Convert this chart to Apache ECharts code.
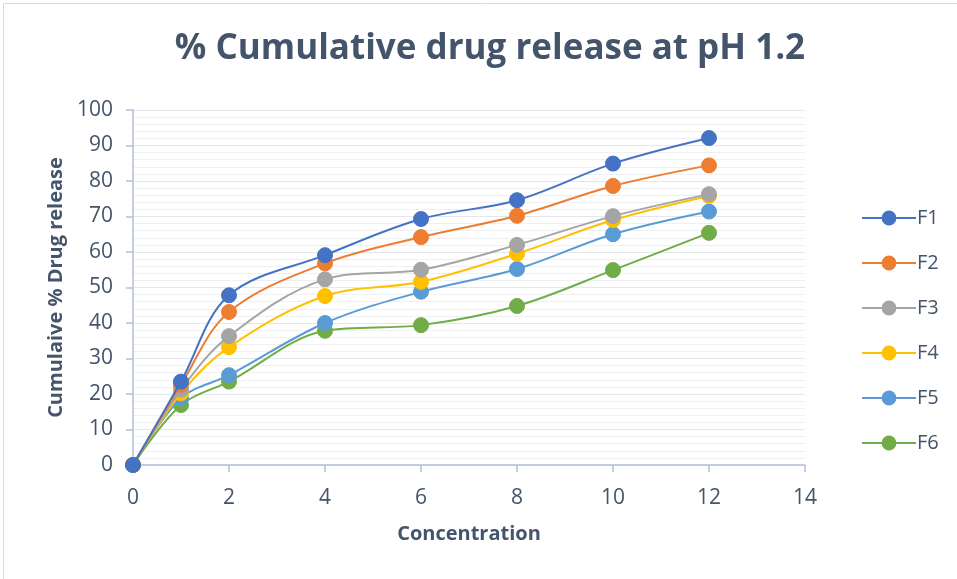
<!DOCTYPE html>
<html>
<head>
<meta charset="utf-8">
<script src="https://cdn.jsdelivr.net/npm/echarts@6/dist/echarts.min.js"></script>
<style>
  html, body { margin: 0; padding: 0; background: #fff; }
  #chart { width: 957px; height: 579px; }
</style>
</head>
<body>
<div id="chart"></div>
<script>
// Sampling points (x axis) and cumulative release per formulation
const times = [0, 1, 2, 4, 6, 8, 10, 12];
const seriesNames = ['F1', 'F2', 'F3', 'F4', 'F5', 'F6'];
const F1 = [0, 23.5, 47.8, 59.1, 69.3, 74.6, 84.9, 92.1];
const F2 = [0, 22.6, 43.1, 56.8, 64.2, 70.2, 78.6, 84.4];
const F3 = [0, 21.2, 36.3, 52.3, 55.0, 62.0, 70.1, 76.3];
const F4 = [0, 20.2, 33.2, 47.6, 51.6, 59.5, 69.0, 75.8];
const F5 = [0, 18.8, 25.3, 40.0, 48.8, 55.2, 65.0, 71.4];
const F6 = [0, 16.9, 23.5, 37.8, 39.4, 44.8, 54.9, 65.4];
const seriesValues = [F1, F2, F3, F4, F5, F6];
const colors = ['#4472C4', '#ED7D31', '#A5A5A5', '#FFC000', '#5B9BD5', '#70AD47'];
const xTicks = [0, 2, 4, 6, 8, 10, 12, 14];
const yTicks = [0, 10, 20, 30, 40, 50, 60, 70, 80, 90, 100];

const textColor = '#44546A';
const font = '"Open Sans", "Liberation Sans", sans-serif';

const chart = echarts.init(document.getElementById('chart'), null, { renderer: 'canvas' });

const series = seriesNames.map((name, i) => ({
  name,
  type: 'line',
  smooth: 0.35,
  data: times.map((t, j) => [t, seriesValues[i][j]]),
  symbol: 'circle',
  symbolSize: 15,
  lineStyle: { width: 2, color: colors[i] },
  itemStyle: { color: colors[i], borderColor: colors[i], borderWidth: 1 },
  z: 10 - i
}));

chart.setOption({
  animation: false,
  backgroundColor: '#fff',
  graphic: [{
    type: 'rect',
    shape: { x: 3.5, y: 3.5, width: 1000, height: 1000 },
    style: { fill: 'none', stroke: '#D9D9D9', lineWidth: 1 },
    silent: true
  }],
  title: {
    text: '% Cumulative drug release at pH 1.2',
    left: 485,
    textAlign: 'center',
    top: 27,
    textStyle: { fontFamily: font, fontWeight: 'bold', fontSize: 35, color: textColor }
  },
  legend: {
    orient: 'vertical',
    left: 856,
    top: 203,
    itemGap: 25,
    itemWidth: 54,
    itemHeight: 16,
    data: seriesNames,
    textStyle: { fontFamily: font, fontSize: 20, color: textColor, padding: [0, 0, 0, -4] }
  },
  grid: { left: 133, right: 152, top: 110, bottom: 114, containLabel: false },
  xAxis: {
    type: 'value',
    min: 0, max: 14, interval: 2,
    name: 'Concentration',
    nameLocation: 'middle',
    nameGap: 59,
    nameTextStyle: { fontFamily: font, fontWeight: 'bold', fontSize: 20, color: textColor },
    axisLine: { show: true, lineStyle: { color: '#B4C0D8', width: 1.5 } },
    axisTick: { show: true, length: 7, lineStyle: { color: '#B4C0D8', width: 1.5 } },
    axisLabel: {
      fontFamily: font, fontSize: 21, color: textColor, margin: 23,
      formatter: v => xTicks.includes(v) ? String(v) : ''
    },
    splitLine: { show: false }
  },
  yAxis: {
    type: 'value',
    min: 0, max: 100, interval: 10,
    name: 'Cumulaive % Drug release',
    nameLocation: 'middle',
    nameGap: 67,
    nameRotate: 90,
    nameTextStyle: { fontFamily: font, fontWeight: 'bold', fontSize: 20, color: textColor },
    axisLine: { show: true, lineStyle: { color: '#B4C0D8', width: 1.5 } },
    axisTick: { show: true, length: 7, lineStyle: { color: '#B4C0D8', width: 1.5 } },
    axisLabel: {
      fontFamily: font, fontSize: 21, color: textColor, margin: 20,
      formatter: v => yTicks.includes(v) ? String(v) : ''
    },
    splitLine: { show: true, lineStyle: { color: '#E4E8EE', width: 1 } },
    minorTick: { show: false, splitNumber: 5 },
    minorSplitLine: { show: true, lineStyle: { color: '#EEF0F3', width: 1 } }
  },
  series
});
</script>
</body>
</html>
